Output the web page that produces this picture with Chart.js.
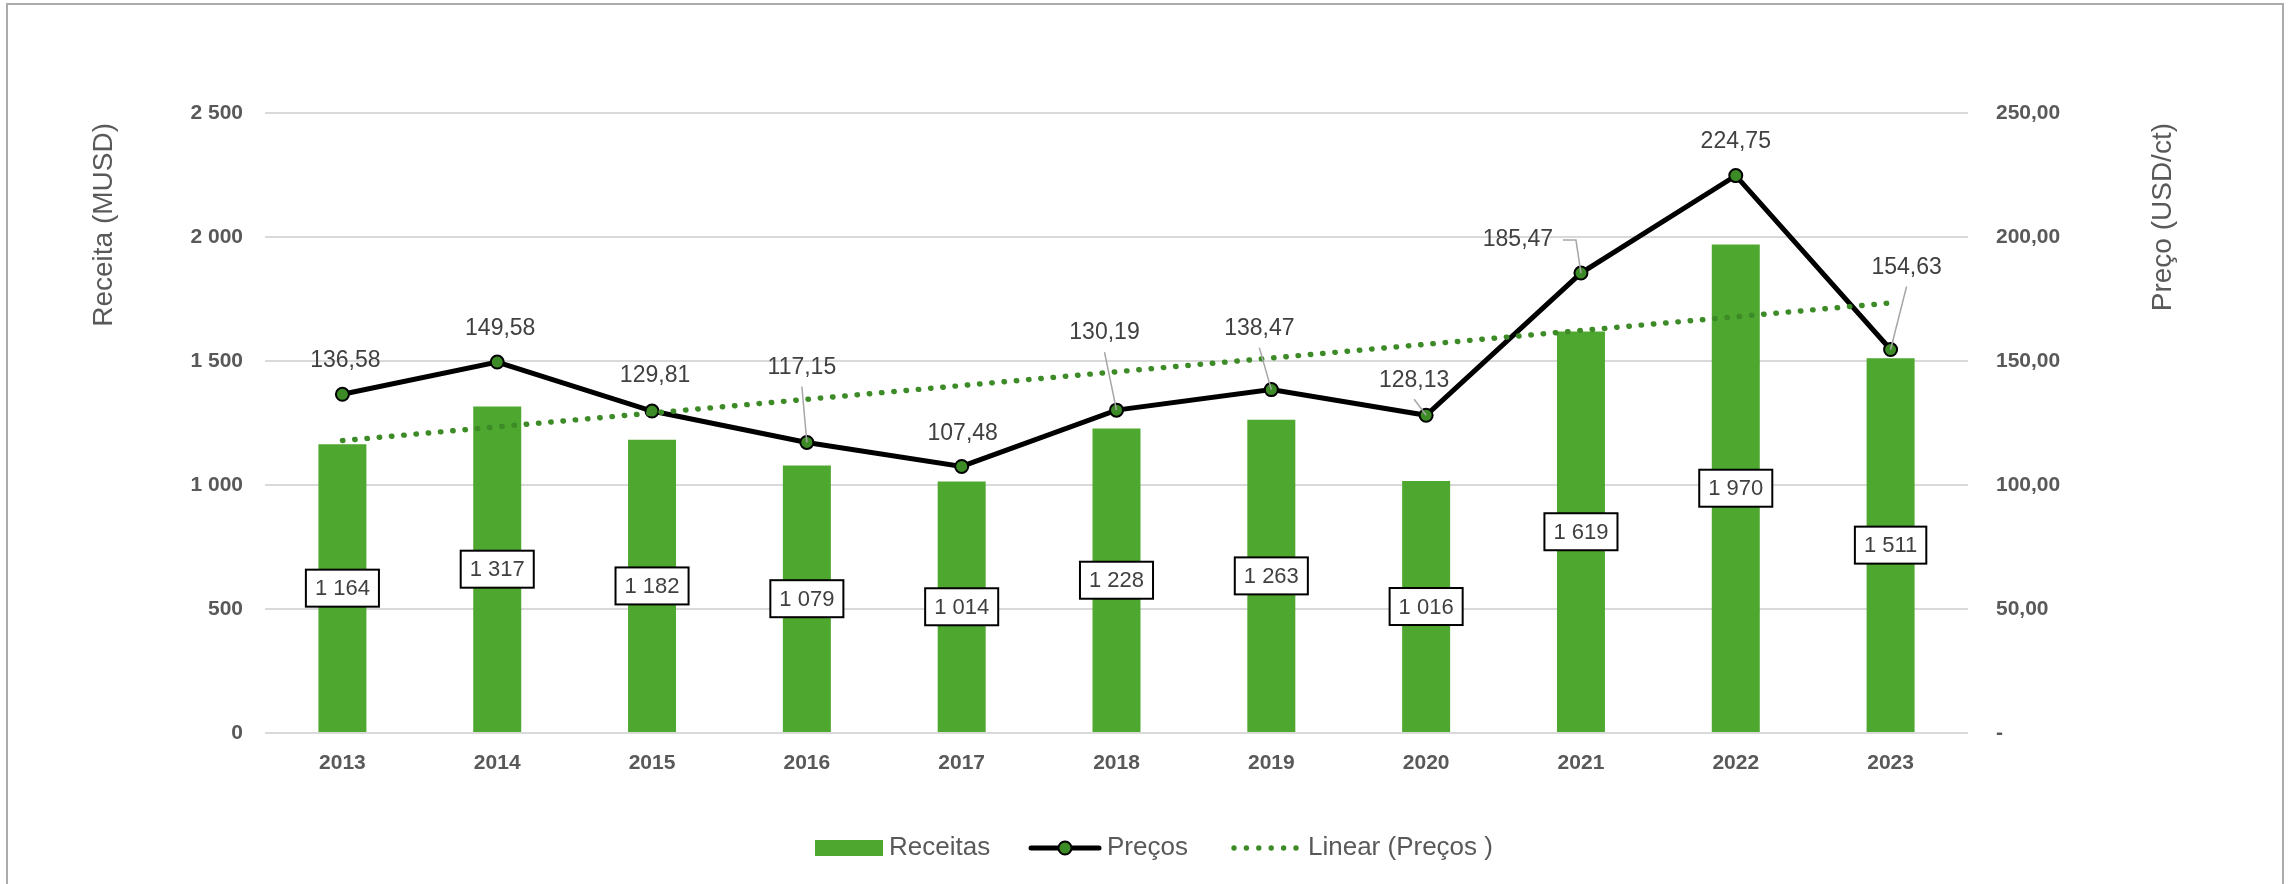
<!DOCTYPE html>
<html lang="pt">
<head>
<meta charset="utf-8">
<title>Receitas e Preços</title>
<script src="https://cdn.jsdelivr.net/npm/chart.js@4.4.1/dist/chart.umd.min.js"></script>
<style>
    html, body { margin: 0; padding: 0; background: #ffffff; }
    #wrap { width: 2288px; height: 884px; }
</style>
</head>
<body>
<div id="wrap"><canvas id="receitasChart" width="2288" height="884"></canvas></div>
<script>
/**
 * Receitas (MUSD) x Preços (USD/ct), 2013-2023
 */

const anos = ['2013', '2014', '2015', '2016', '2017', '2018', '2019', '2020', '2021', '2022', '2023'];
const receitas = [1164, 1317, 1182, 1079, 1014, 1228, 1263, 1016, 1619, 1970, 1511];
const precos = [136.58, 149.58, 129.81, 117.15, 107.48, 130.19, 138.47, 128.13, 185.47, 224.75, 154.63];
// Linear (Preços): start and end
const tendencia = [117.9, null, null, null, null, null, null, null, null, null, 173.4];

const receitaTicks = [0, 500, 1000, 1500, 2000, 2500];
const precoTicks = [0, 50, 100, 150, 200, 250];

const VERDE_BARRA = '#4EA72E';
const VERDE_ESCURO = '#3D8B27';
const CINZA_TEXTO = '#595959';
const TEXTO_ROTULO = '#404040';
const FONTE = '"Liberation Sans", Arial, sans-serif';

// label placement for the price labels (dx, dy from the point, leader style)
const rotuloPreco = [
    { dx: 3, dy: -34, leader: null },
    { dx: 3, dy: -33, leader: null },
    { dx: 3, dy: -35, leader: null },
    { dx: -5, dy: -75, leader: 'down' },
    { dx: 1, dy: -33, leader: null },
    { dx: -12, dy: -77, leader: 'down' },
    { dx: -12, dy: -61, leader: 'down' },
    { dx: -12, dy: -35, leader: 'down' },
    { dx: -63, dy: -33, leader: 'side' },
    { dx: 0, dy: -34, leader: null },
    { dx: 16, dy: -82, leader: 'down' }
];

function milhares(v) {
    return String(v).replace(/\B(?=(\d{3})+(?!\d))/g, ' ');
}

function decimal(v) {
    if (v === 0) return '-';
    return v.toFixed(2).replace('.', ',');
}

const moldura = {
    id: 'moldura',
    beforeDraw(chart) {
        const ctx = chart.ctx;
        ctx.save();
        ctx.fillStyle = '#ffffff';
        ctx.fillRect(0, 0, chart.width, chart.height);
        ctx.strokeStyle = '#ABABAB';
        ctx.lineWidth = 2;
        ctx.strokeRect(7, 4, 2276, 1000);
        ctx.restore();
    }
};

const rotulos = {
    id: 'rotulos',
    afterDatasetsDraw(chart) {
        const ctx = chart.ctx;
        ctx.save();

        // bar labels, boxed, in the middle of each bar
        const barras = chart.getDatasetMeta(0).data;
        ctx.font = '22px ' + FONTE;
        ctx.textAlign = 'center';
        ctx.textBaseline = 'middle';
        barras.forEach((bar, i) => {
            const txt = milhares(receitas[i]);
            const w = ctx.measureText(txt).width + 18;
            const h = 37;
            const cy = (bar.y + bar.base) / 2;
            ctx.fillStyle = '#ffffff';
            ctx.fillRect(bar.x - w / 2, cy - h / 2, w, h);
            ctx.strokeStyle = '#000000';
            ctx.lineWidth = 2;
            ctx.strokeRect(bar.x - w / 2, cy - h / 2, w, h);
            ctx.fillStyle = TEXTO_ROTULO;
            ctx.fillText(txt, bar.x, cy + 1);
        });

        // price labels with leader lines
        const pontos = chart.getDatasetMeta(1).data;
        ctx.font = '23px ' + FONTE;
        pontos.forEach((pt, i) => {
            const r = rotuloPreco[i];
            const cx = pt.x + r.dx;
            const cy = pt.y + r.dy;
            if (r.leader) {
                ctx.strokeStyle = '#A6A6A6';
                ctx.lineWidth = 1.5;
                ctx.beginPath();
                if (r.leader === 'down') {
                    ctx.moveTo(cx, cy + 19);
                } else {
                    ctx.moveTo(cx + 45, cy);
                    ctx.lineTo(cx + 58, cy);
                }
                ctx.lineTo(pt.x, pt.y);
                ctx.stroke();
            }
            ctx.fillStyle = TEXTO_ROTULO;
            ctx.fillText(decimal(precos[i]), cx, cy);
        });
        ctx.restore();
    },
    afterDraw(chart) {
        const ctx = chart.ctx;
        ctx.save();

        // axis titles
        ctx.fillStyle = CINZA_TEXTO;
        ctx.font = '28px ' + FONTE;
        ctx.textAlign = 'right';
        ctx.textBaseline = 'alphabetic';
        [[112, 'Receita (MUSD)'], [2171, 'Preço (USD/ct)']].forEach(([x, txt]) => {
            ctx.save();
            ctx.translate(x, 123);
            ctx.rotate(-Math.PI / 2);
            ctx.fillText(txt, 0, 0);
            ctx.restore();
        });

        // legend
        const ly = 848;
        ctx.font = '26px ' + FONTE;
        ctx.textAlign = 'left';
        ctx.textBaseline = 'middle';

        ctx.fillStyle = VERDE_BARRA;
        ctx.fillRect(815, ly - 8, 68, 16);
        ctx.fillStyle = CINZA_TEXTO;
        ctx.fillText('Receitas', 889, ly);

        ctx.strokeStyle = '#000000';
        ctx.lineWidth = 5;
        ctx.lineCap = 'round';
        ctx.beginPath();
        ctx.moveTo(1031, ly);
        ctx.lineTo(1099, ly);
        ctx.stroke();
        ctx.beginPath();
        ctx.arc(1065, ly, 6.5, 0, Math.PI * 2);
        ctx.fillStyle = VERDE_ESCURO;
        ctx.fill();
        ctx.lineWidth = 2;
        ctx.stroke();
        ctx.fillStyle = CINZA_TEXTO;
        ctx.fillText('Preços', 1107, ly);

        ctx.fillStyle = VERDE_ESCURO;
        for (let k = 0; k < 6; k++) {
            ctx.beginPath();
            ctx.arc(1234 + k * 12.4, ly, 2.7, 0, Math.PI * 2);
            ctx.fill();
        }
        ctx.fillStyle = CINZA_TEXTO;
        ctx.fillText('Linear (Preços )', 1308, ly);

        ctx.restore();
    }
};

const ctx = document.getElementById('receitasChart').getContext('2d');

new Chart(ctx, {
    type: 'bar',
    data: {
        labels: anos,
        datasets: [
            {
                type: 'bar',
                label: 'Receitas',
                data: receitas,
                yAxisID: 'y',
                backgroundColor: VERDE_BARRA,
                borderWidth: 0,
                categoryPercentage: 1,
                barPercentage: 0.31,
                order: 3
            },
            {
                type: 'line',
                label: 'Preços',
                data: precos,
                yAxisID: 'y1',
                borderColor: '#000000',
                borderWidth: 5,
                pointRadius: 6.5,
                pointBorderWidth: 2,
                pointBackgroundColor: VERDE_ESCURO,
                pointBorderColor: '#000000',
                tension: 0,
                order: 2
            },
            {
                type: 'line',
                label: 'Linear (Preços )',
                data: tendencia,
                yAxisID: 'y1',
                spanGaps: true,
                borderColor: VERDE_ESCURO,
                borderWidth: 5.4,
                borderDash: [0.5, 11.8],
                borderCapStyle: 'round',
                pointRadius: 0,
                order: 1
            }
        ]
    },
    options: {
        responsive: false,
        animation: false,
        devicePixelRatio: 1,
        layout: { padding: { top: 113, bottom: 0, left: 0, right: 0 } },
        plugins: {
            legend: { display: false },
            tooltip: { enabled: false }
        },
        scales: {
            x: {
                grid: { display: false, drawTicks: false },
                border: { display: false },
                ticks: {
                    color: CINZA_TEXTO,
                    font: { family: FONTE, size: 21, weight: 'bold' },
                    padding: 18,
                    maxRotation: 0
                },
                afterFit: scale => { scale.height = 151; }
            },
            y: {
                position: 'left',
                min: 0,
                max: 2500,
                afterBuildTicks: scale => { scale.ticks = receitaTicks.map(v => ({ value: v })); },
                grid: { color: '#D9D9D9', lineWidth: 2, drawTicks: false },
                border: { display: false },
                ticks: {
                    color: CINZA_TEXTO,
                    font: { family: FONTE, size: 21, weight: 'bold' },
                    padding: 22,
                    callback: v => milhares(v)
                },
                afterFit: scale => { scale.width = 265; }
            },
            y1: {
                position: 'right',
                min: 0,
                max: 250,
                afterBuildTicks: scale => { scale.ticks = precoTicks.map(v => ({ value: v })); },
                grid: { display: false, drawTicks: false },
                border: { display: false },
                ticks: {
                    color: CINZA_TEXTO,
                    font: { family: FONTE, size: 21, weight: 'bold' },
                    padding: 28,
                    callback: v => decimal(v)
                },
                afterFit: scale => { scale.width = 320; }
            }
        }
    },
    plugins: [moldura, rotulos]
});
</script>
</body>
</html>
